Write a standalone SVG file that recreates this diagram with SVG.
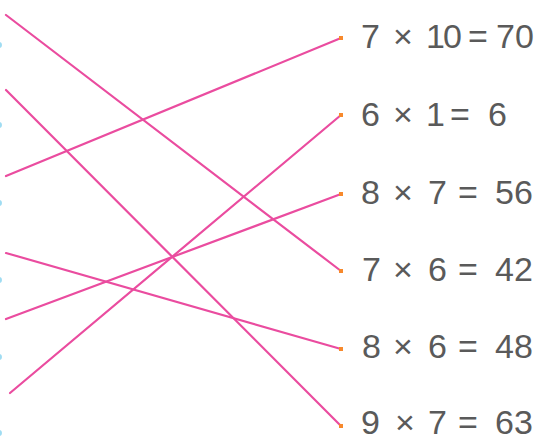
<svg xmlns="http://www.w3.org/2000/svg" width="535" height="436" viewBox="0 0 535 436">
<style>
.ln{stroke:#ea4c9f;stroke-width:2.2;fill:none;stroke-linecap:round}
.dot{fill:#f7892c}
.cy{fill:#9fdcf2}
.t{font-family:"Liberation Sans",Arial,sans-serif;font-size:34px;fill:#5a5a5a}
</style>
<rect width="535" height="436" fill="#fff"/>
<g id="left-marks">
<circle class="cy" cx="-1" cy="45" r="3"/>
<circle class="cy" cx="-1" cy="125" r="3"/>
<circle class="cy" cx="-1" cy="203" r="3"/>
<circle class="cy" cx="-1" cy="280" r="3"/>
<circle class="cy" cx="-1" cy="357" r="3"/>
<circle class="cy" cx="-1" cy="433" r="3"/>
</g>
<g id="connectors">
<line class="ln" x1="6" y1="15" x2="341" y2="271"/>
<line class="ln" x1="6" y1="90" x2="341" y2="426"/>
<line class="ln" x1="6" y1="176" x2="341" y2="38"/>
<line class="ln" x1="6" y1="253" x2="341" y2="349"/>
<line class="ln" x1="6" y1="319" x2="341" y2="194"/>
<line class="ln" x1="10" y1="393" x2="341" y2="115"/>
</g>
<g id="n1"><rect class="dot" x="339" y="36" width="4" height="4"/><text class="t" y="48"><tspan x="361">7 </tspan><tspan x="393">× </tspan><tspan x="426" letter-spacing="-2">10 </tspan><tspan x="468">= </tspan><tspan x="496">70</tspan></text></g>
<g id="n2"><rect class="dot" x="339" y="113" width="4" height="4"/><text class="t" y="126"><tspan x="361">6 </tspan><tspan x="393">× </tspan><tspan x="426">1 </tspan><tspan x="450">= </tspan><tspan x="488">6</tspan></text></g>
<g id="n3"><rect class="dot" x="339" y="192" width="4" height="4"/><text class="t" y="204"><tspan x="361">8 </tspan><tspan x="393">× </tspan><tspan x="428">7 </tspan><tspan x="458">= </tspan><tspan x="495">56</tspan></text></g>
<g id="n4"><rect class="dot" x="339" y="269" width="4" height="4"/><text class="t" y="281"><tspan x="362">7 </tspan><tspan x="393">× </tspan><tspan x="428">6 </tspan><tspan x="458">= </tspan><tspan x="495">42</tspan></text></g>
<g id="n5"><rect class="dot" x="339" y="347" width="4" height="4"/><text class="t" y="358"><tspan x="362">8 </tspan><tspan x="393">× </tspan><tspan x="428">6 </tspan><tspan x="458">= </tspan><tspan x="495">48</tspan></text></g>
<g id="n6"><rect class="dot" x="339" y="424" width="4" height="4"/><text class="t" y="434"><tspan x="361">9 </tspan><tspan x="395">× </tspan><tspan x="428">7 </tspan><tspan x="458">= </tspan><tspan x="495">63</tspan></text></g>
</svg>
